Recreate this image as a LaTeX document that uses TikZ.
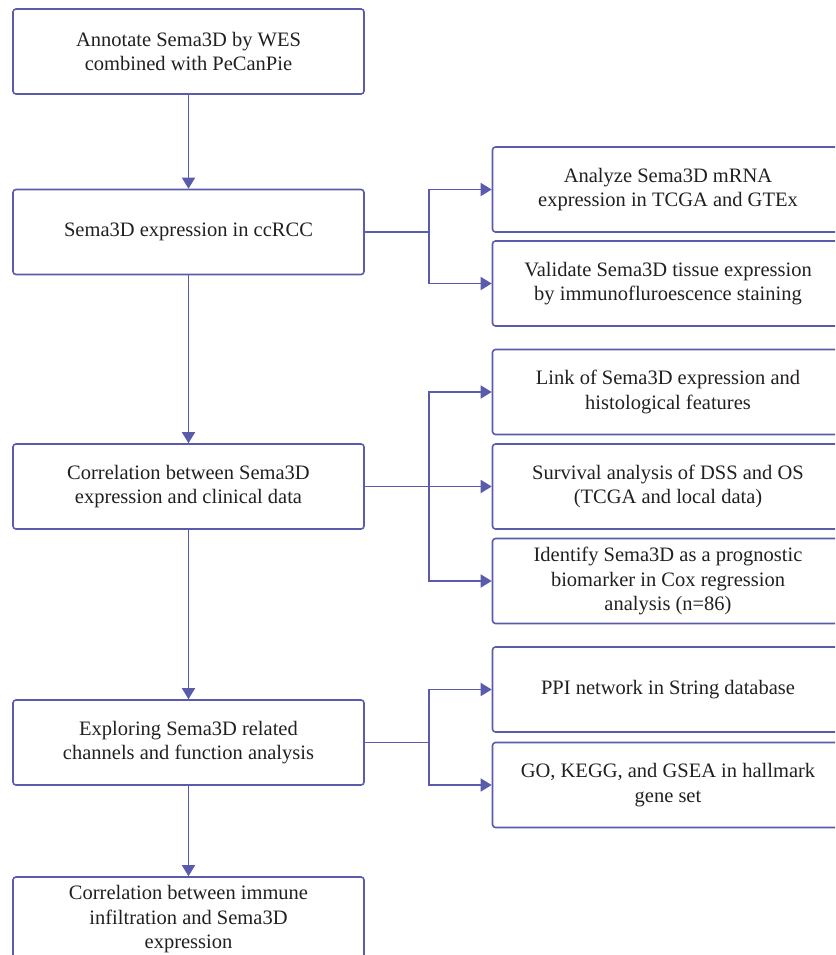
\documentclass[tikz,border=0pt]{standalone}
\usepackage{fontspec}
\setmainfont{Liberation Serif}
\usetikzlibrary{arrows.meta,positioning}
\definecolor{flowline}{RGB}{91,91,171}
\definecolor{flowtext}{RGB}{35,31,32}
\newlength\boxwidth
\setlength\boxwidth{351pt}
\newlength\boxheight
\setlength\boxheight{85pt}
\tikzset{
  stage/.style={draw=flowline,line width=1.6pt,rounded corners=3pt,
    minimum width=\boxwidth,minimum height=\boxheight,inner sep=0pt,
    align=center,text=flowtext,font=\fontsize{20.5}{24.5}\selectfont},
  link/.style={draw=flowline,line width=1.6pt,-{Triangle[length=11pt,width=13pt]}}
}

\begin{document}
\begin{tikzpicture}[x=1pt,y=-1pt]
    \useasboundingbox (0,0) rectangle (835,955);
    \clip (0,0) rectangle (835,955);

    % main column
    \node[stage] (wes) at (188.5,51.5) {Annotate Sema3D by WES\\combined with PeCanPie};
    \node[stage] (expr) at (188.5,232) {Sema3D expression in ccRCC};
    \node[stage] (clin) at (188.5,486.5) {Correlation between Sema3D\\expression and clinical data};
    \node[stage] (func) at (188.5,742.5) {Exploring Sema3D related\\channels and function analysis};
    \node[stage] (immune) at (188.5,919.5) {Correlation between immune\\infiltration and Sema3D\\expression};

    % side boxes
    \node[stage] (mrna) at (668,189.5) {Analyze Sema3D mRNA\\expression in TCGA and GTEx};
    \node[stage] (tissue) at (668,283.5) {Validate Sema3D tissue expression\\by immunofluroescence staining};
    \node[stage] (histo) at (668,392) {Link of Sema3D expression and\\histological features};
    \node[stage] (surv) at (668,486.5) {Survival analysis of DSS and OS\\(TCGA and local data)};
    \node[stage] (cox) at (668,581) {Identify Sema3D as a prognostic\\biomarker in Cox regression\\analysis (n=86)};
    \node[stage] (ppi) at (668,689.5) {PPI network in String database};
    \node[stage] (gsea) at (668,785) {GO, KEGG, and GSEA in hallmark\\gene set};

    % main arrows
    \foreach \a/\b in {wes/expr,expr/clin,clin/func,func/immune} {
      \draw[link] (\a) -- (\b);
    }

    % side arrows
    \foreach \src/\list in {expr/{mrna,tissue},clin/{histo,surv,cox},func/{ppi,gsea}} {
      \path (\src.east) ++(64,0) coordinate (split);
      \draw[draw=flowline,line width=1.6pt] (\src.east) -- (split);
      \foreach \dst in \list {
        \draw[link] (split) |- (\dst.west);
      }
    }
\end{tikzpicture}
\end{document}
